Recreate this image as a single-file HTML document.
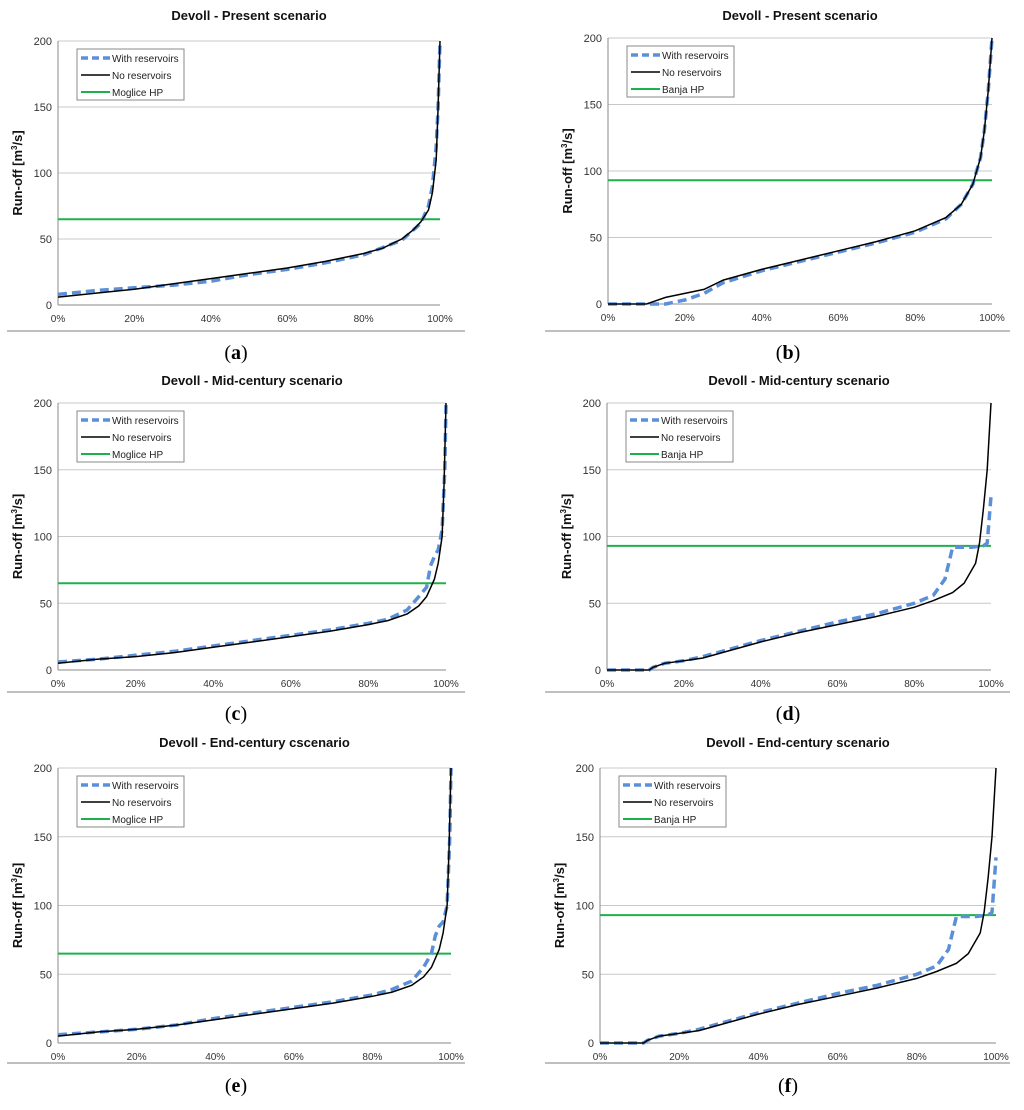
<!DOCTYPE html>
<html><head><meta charset="utf-8"><style>
html,body{margin:0;padding:0;background:#fff;}
svg{display:block;font-family:"Liberation Sans",sans-serif;}
</style></head><body>
<svg id="fig" width="1024" height="1110" viewBox="0 0 1024 1110"></svg>
<script>
const NS="http://www.w3.org/2000/svg";
const yTicks=[0,50,100,150,200];
const xTicks=[0,20,40,60,80,100];
const xTickLabels=["0%","20%","40%","60%","80%","100%"];
const titles=["Devoll - Present  scenario","Devoll - Present scenario","Devoll - Mid-century scenario","Devoll - Mid-century scenario","Devoll  - End-century cscenario","Devoll - End-century scenario"];
const panelLetters=["(a)","(b)","(c)","(d)","(e)","(f)"];
const hpNames=["Moglice HP","Banja HP","Moglice HP","Banja HP","Moglice HP","Banja HP"];
const hpLevels=[65,93,65,93,65,93];
// series: [exceedance %, run-off]
const noResA=[[0,6],[10,9],[20,12],[30,16],[40,20],[50,24],[60,28],[70,33],[80,39],[85,43],[90,50],[93,57],[95,63],[97,72],[98,85],[99,110],[99.5,150],[100,200]];
const withResA=[[0,8],[10,11],[20,13],[30,15],[40,18],[50,23],[60,27],[70,32],[80,38],[90,49],[95,62],[97,75],[98,90],[99,120],[99.5,150],[100,200]];
const noResB=[[0,0],[10,0],[11,1],[15,5],[20,8],[25,11],[30,18],[40,26],[50,33],[60,40],[70,47],[80,55],[88,65],[92,75],[95,90],[97,110],[98,130],[99,160],[100,200]];
const withResB=[[0,0],[15,0],[20,3],[25,8],[30,16],[40,25],[50,32],[60,39],[70,46],[80,54],[88,64],[92,75],[95,90],[97,110],[98,130],[99,160],[100,200]];
const noResC=[[0,5],[10,8],[20,10],[30,13],[40,17],[50,21],[60,25],[70,29],[80,34],[85,37],[90,42],[93,48],[95,55],[97,68],[98,80],[99,100],[99.5,140],[100,200]];
const withResC=[[0,6],[10,8],[20,11],[30,14],[40,18],[50,22],[60,26],[70,30],[80,35],[85,38],[90,45],[93,55],[95,62],[96,78],[97,85],[98,90],[99,105],[99.7,150],[100,200]];
const noResD=[[0,0],[11,0],[12,2],[15,5],[20,7],[25,9],[30,13],[40,21],[50,28],[60,34],[70,40],[80,47],[85,52],[90,58],[93,65],[96,80],[97,95],[98,120],[99,150],[100,200]];
const withResD=[[0,0],[11,0],[12,2],[15,5],[20,7],[25,10],[30,14],[40,22],[50,29],[60,36],[70,42],[80,50],[85,56],[88,68],[89,80],[90,92],[95,92],[98,93],[99,95],[100,130]];
const noResE=[[0,5],[10,8],[20,10],[30,13],[40,17],[50,21],[60,25],[70,29],[80,34],[85,37],[90,42],[93,48],[95,55],[97,68],[98,80],[99,100],[99.5,140],[100,200]];
const withResE=[[0,6],[10,8],[20,10],[30,13],[40,18],[50,22],[60,26],[70,30],[80,35],[85,39],[90,45],[93,55],[95,65],[96,78],[97,85],[98,88],[99,100],[99.7,150],[100,200]];
const noResF=[[0,0],[11,0],[12,2],[15,5],[20,7],[25,9],[30,13],[40,21],[50,28],[60,34],[70,40],[80,47],[85,52],[90,58],[93,65],[96,80],[97,95],[98,120],[99,150],[100,200]];
const withResF=[[0,0],[11,0],[12,2],[15,5],[20,7],[25,10],[30,14],[40,22],[50,29],[60,36],[70,42],[80,50],[85,56],[88,68],[89,80],[90,92],[95,92],[98,93],[99,95],[100,135]];
const noRes=[noResA,noResB,noResC,noResD,noResE,noResF];
const withRes=[withResA,withResB,withResC,withResD,withResE,withResF];
// layout
const P=[
 {x0:58,x1:440,yt:41,yb:305,ty:15,ly:352,lx:236},
 {x0:608,x1:992,yt:38,yb:304,ty:15,ly:352,lx:788},
 {x0:58,x1:446,yt:403,yb:670,ty:380,ly:713,lx:236},
 {x0:607,x1:991,yt:403,yb:670,ty:380,ly:713,lx:788},
 {x0:58,x1:451,yt:768,yb:1043,ty:742,ly:1085,lx:236},
 {x0:600,x1:996,yt:768,yb:1043,ty:742,ly:1085,lx:788}
];
const svg=document.getElementById('fig');
function mk(tag,attrs,parent,text){const e=document.createElementNS(NS,tag);for(const k in attrs)e.setAttribute(k,attrs[k]);if(text!==undefined)e.textContent=text;(parent||svg).appendChild(e);return e;}
P.forEach((p,i)=>{
 const g=mk('g',{});
 
 
 const sx=v=>p.x0+(p.x1-p.x0)*v/100;
 const sy=v=>p.yb-(p.yb-p.yt)*v/200;
 yTicks.forEach(t=>{
  if(t>0){const l=mk('line',{x1:p.x0,x2:p.x1,y1:sy(t),y2:sy(t),stroke:'#c8c8c8','stroke-width':1},g);
   }
  const tx=mk('text',{x:p.x0-6,y:sy(t)+4,'text-anchor':'end','font-size':11,fill:'#333'},g,String(t));
  
 });
 const ax=mk('line',{x1:p.x0,x2:p.x0,y1:p.yt,y2:p.yb,stroke:'#888','stroke-width':1},g);
 
 const bx=mk('line',{x1:p.x0,x2:p.x1,y1:p.yb,y2:p.yb,stroke:'#888','stroke-width':1},g);
 
 xTicks.forEach((t,k)=>{
  const tx=mk('text',{x:sx(t),y:p.yb+17,'text-anchor':'middle','font-size':10,fill:'#333'},g,xTickLabels[k]);
  
 });
 const tt=mk('text',{x:(p.x0+p.x1)/2,y:p.ty+5,'text-anchor':'middle','font-size':13,'font-weight':'bold',fill:'#111'},g,titles[i]);
 
 const cy=(p.yt+p.yb)/2;
 const yt=mk('text',{x:0,y:0,transform:`translate(${p.x0-36},${cy}) rotate(-90)`,'text-anchor':'middle','font-size':13,'font-weight':'bold',fill:'#111'},g);
 yt.innerHTML='Run-off [m<tspan font-size="8" dy="-5">3</tspan><tspan dy="5">/s]</tspan>';
 
 // HP line
 const hp=mk('line',{x1:p.x0,x2:p.x1,y1:sy(hpLevels[i]),y2:sy(hpLevels[i]),stroke:'#1db14b','stroke-width':2},g);
 
 const pts=a=>a.map(d=>sx(d[0]).toFixed(1)+','+sy(d[1]).toFixed(1)).join(' ');
 const w=mk('polyline',{points:pts(withRes[i]),fill:'none',stroke:'#5b8fd8','stroke-width':3.5,'stroke-dasharray':'9,5'},g);
 
 const n=mk('polyline',{points:pts(noRes[i]),fill:'none',stroke:'#000','stroke-width':1.5},g);
 
 // legend
 const lg=mk('g',{},g);
 
 const lx=p.x0+19,ly=p.yt+8;
 mk('rect',{x:lx,y:ly,width:107,height:51,fill:'#fff',stroke:'#888','stroke-width':1},lg);
 const items=[['With reservoirs','#5b8fd8',3.5,'7,4'],['No reservoirs','#000',1.5,''],[hpNames[i],'#1db14b',2,'']];
 items.forEach((it,k)=>{
  const yy=ly+9+k*17;
  const e=mk('g',{},lg);
  
  const at={x1:lx+4,x2:lx+33,y1:yy,y2:yy,stroke:it[1],'stroke-width':it[2]};
  if(it[3])at['stroke-dasharray']=it[3];
  mk('line',at,e);
  mk('text',{x:lx+35,y:yy+4,'font-size':10,fill:'#222'},e,it[0]);
 });
 const pl=mk('text',{x:p.lx,y:p.ly+7,'text-anchor':'middle','font-size':20,'font-family':'"Liberation Serif",serif',fill:'#000'},null);
 pl.innerHTML='(<tspan font-weight="bold">'+panelLetters[i][1]+'</tspan>)';
 
});
// separators
[[7,465,331],[545,1010,331],[7,465,692],[545,1010,692],[7,465,1063],[545,1010,1063]].forEach(s=>{
 const l=mk('line',{x1:s[0],x2:s[1],y1:s[2],y2:s[2],stroke:'#aaa','stroke-width':1.5});
 
});
</script>
</body></html>
